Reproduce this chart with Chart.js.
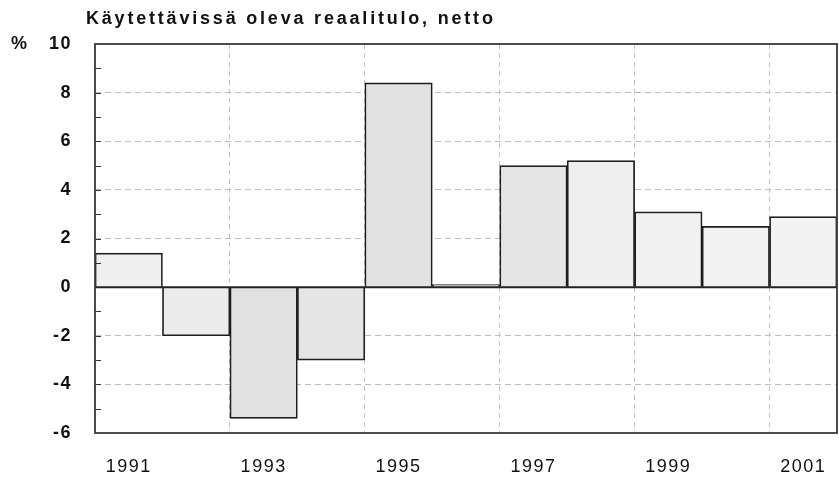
<!DOCTYPE html>
<html>
<head>
<meta charset="utf-8">
<script src="https://cdn.jsdelivr.net/npm/chart.js@4.4.1/dist/chart.umd.min.js"></script>
<style>
  html, body { margin: 0; padding: 0; background: #fff; }
  #wrap { width: 839px; height: 480px; }
</style>
</head>
<body>
<div id="wrap"><canvas id="myChart" width="839" height="480"></canvas></div>
<script>
const title = 'Käytettävissä oleva reaalitulo, netto';
const years = ['1991', '1992', '1993', '1994', '1995', '1996', '1997', '1998', '1999', '2000', '2001'];
const incomeChange = [1.4, -2.0, -5.4, -3.0, 8.4, 0.1, 5.0, 5.2, 3.1, 2.5, 2.9];
const yMin = -6;
const yMax = 10;
// grey shades of the scanned bars
const barFills = ['#efefef', '#ebebeb', '#e1e1e1', '#e5e5e5', '#e2e2e2', '#eeeeee', '#e5e5e5', '#efefef', '#f1f1f1', '#f2f2f2', '#f3f3f3'];

const FONT = '"Liberation Sans", Arial, sans-serif';

// frame, zero line, minor ticks, title and % sign
const decorations = {
  id: 'decorations',
  beforeDraw(chart) {
    // the scanned print has loosely spaced type
    chart.ctx.letterSpacing = '1.5px';
  },
  afterDatasetsDraw(chart) {
    const { ctx, chartArea: a, scales } = chart;
    const y = scales.y;
    ctx.save();
    ctx.strokeStyle = '#333';
    ctx.lineWidth = 1;
    for (let v = yMin + 1; v < yMax; v++) {
      const py = Math.round(y.getPixelForValue(v)) + 0.5;
      ctx.beginPath();
      ctx.moveTo(a.left, py);
      ctx.lineTo(a.left + 6, py);
      ctx.stroke();
    }
    ctx.lineWidth = 2;
    ctx.strokeStyle = '#222';
    const z = y.getPixelForValue(0);
    ctx.beginPath();
    ctx.moveTo(a.left, z);
    ctx.lineTo(a.right, z);
    ctx.stroke();
    ctx.strokeStyle = '#3a3a3a';
    ctx.lineWidth = 1.8;
    ctx.strokeRect(a.left, a.top, a.right - a.left, a.bottom - a.top);
    ctx.restore();
  },
  afterDraw(chart) {
    const { ctx, chartArea: a } = chart;
    ctx.save();
    ctx.fillStyle = '#111';
    ctx.textBaseline = 'middle';
    ctx.textAlign = 'left';
    ctx.font = 'bold 18px ' + FONT;
    ctx.letterSpacing = '2.8px';
    ctx.fillText(title, 86, 19);
    ctx.letterSpacing = '0px';
    ctx.fillText('%', 11, a.top);
    ctx.restore();
  }
};

new Chart(document.getElementById('myChart'), {
  type: 'bar',
  data: {
    labels: years,
    datasets: [{
      data: incomeChange,
      backgroundColor: barFills,
      borderColor: '#1e1e1e',
      borderWidth: 1.7,
      categoryPercentage: 1,
      barPercentage: 1
    }]
  },
  options: {
    responsive: false,
    animation: false,
    layout: { padding: { left: 0, top: 44, right: 2, bottom: 0 } },
    plugins: {
      legend: { display: false },
      tooltip: { enabled: false }
    },
    scales: {
      x: {
        offset: true,
        afterFit: s => { s.height = 47; s.paddingLeft = 0; s.paddingRight = 0; },
        grid: {
          offset: true,
          drawTicks: false,
          lineWidth: 1,
          color: c => (c.index > 0 && c.index < years.length && c.index % 2 === 0) ? '#c4c4c4' : 'rgba(0,0,0,0)'
        },
        border: { display: false, dash: [5, 4] },
        ticks: {
          autoSkip: false,
          maxRotation: 0,
          padding: 23,
          color: '#111',
          font: { family: FONT, size: 18 },
          callback: (v, i) => i % 2 === 0 ? years[i] : ''
        }
      },
      y: {
        min: yMin,
        max: yMax,
        afterFit: s => { s.width = 95; },
        grid: {
          drawTicks: false,
          lineWidth: 1,
          color: c => (c.tick && c.tick.value % 2 === 0 && c.tick.value !== 0 && c.tick.value !== yMin && c.tick.value !== yMax) ? '#bdbdbd' : 'rgba(0,0,0,0)'
        },
        border: { display: false, dash: [6, 4] },
        ticks: {
          stepSize: 1,
          autoSkip: false,
          padding: 23,
          color: '#111',
          font: { family: FONT, size: 18, weight: 'bold' },
          callback: v => v % 2 === 0 ? v : ''
        }
      }
    }
  },
  plugins: [decorations]
});
</script>
</body>
</html>
